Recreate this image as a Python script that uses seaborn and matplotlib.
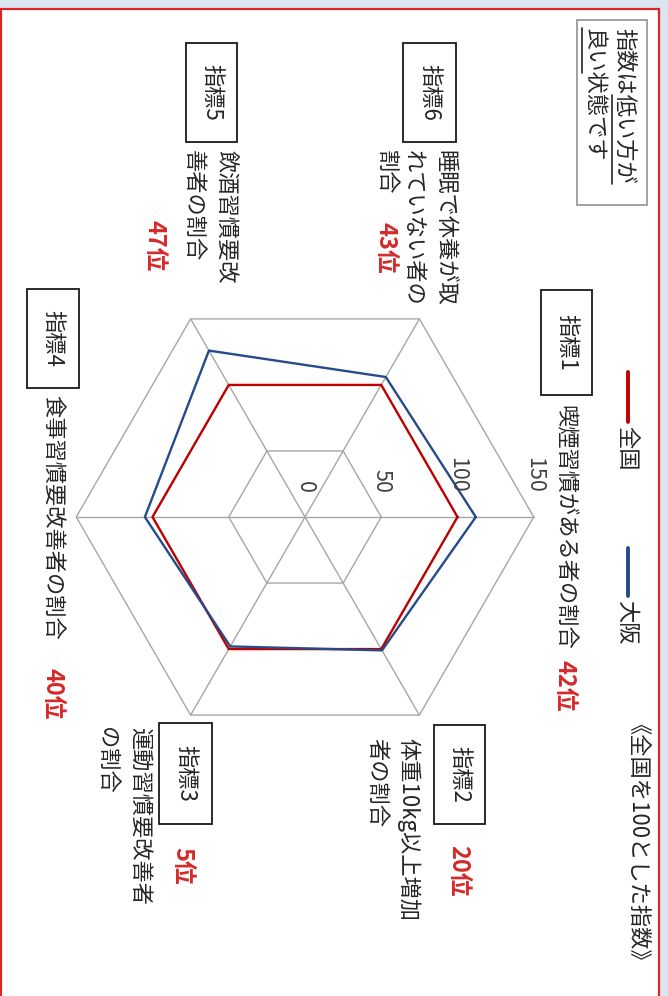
import numpy as np
import pandas as pd
import matplotlib
matplotlib.use("Agg")
import matplotlib.pyplot as plt
import seaborn as sns
from matplotlib.patches import Rectangle
from matplotlib.lines import Line2D

sns.set_theme(style="white")
plt.rcParams["font.family"] = ["Noto Sans CJK JP", "DejaVu Sans"]

# --- data ---
indicators = ["指標1", "指標2", "指標3", "指標4", "指標5", "指標6"]
descriptions = [
    ["喫煙習慣がある者の割合"],
    ["体重10kg以上増加", "者の割合"],
    ["運動習慣要改善者", "の割合"],
    ["食事習慣要改善者の割合"],
    ["飲酒習慣要改", "善者の割合"],
    ["睡眠で休養が取", "れていない者の", "割合"],
]
ranks = [42, 20, 5, 40, 47, 43]
zenkoku = [100, 100, 100, 100, 100, 100]
osaka = [112, 101, 98, 105, 126, 106]
rings = [50, 100, 150]
ring_labels = [0, 50, 100, 150]

# --- layout (pixels, origin top-left) ---
W, H = 668, 996
CX, CY = 305, 517
SCALE = 1.525  # px per index point
box_px = [(541, 290, 51, 105), (434, 725, 51, 99), (159, 723, 53, 101),
          (27, 289, 52, 99), (186, 43, 51, 99), (403, 43, 53, 99)]
desc_px = [[(565, 405)], [(408, 738), (377, 738)], [(140, 727), (107, 727)],
           [(52, 395)], [(225, 150), (193, 150)], [(445, 150), (413, 150), (386, 150)]]
rank_px = [(565, 660), (458, 845), (182, 847), (52, 668), (155, 220), (386, 222)]

RED = "#c00000"
BLUE = "#264b8a"
GRID = "#a6a6a6"
TXT = "#262626"
RANK = "#d42a2a"


def fx(x):
    return x / W


def fy(y):
    return 1 - y / H


def vtext(x, y, s, va="top", **kw):
    fig.text(fx(x), fy(y), s, rotation=-90, ha="center", va=va, **kw)


fig = plt.figure(figsize=(W / 100, H / 100), dpi=100)
fig.patch.set_facecolor("#dce6f1")

# white panel with red frame
fig.add_artist(Rectangle((fx(0.5), fy(1010)), fx(658.5), (1010 - 9) / H,
                         transform=fig.transFigure, facecolor="white",
                         edgecolor="#d9262b", lw=1.6, zorder=-10))

# --- radar ---
half = 300 / SCALE
ax = fig.add_axes([fx(CX - 300), fy(CY + 300), fx(600), 600 / H])
ax.set_facecolor("none")
ax.set_xlim(-half, half)
ax.set_ylim(-half, half)
ax.axis("off")

theta = np.deg2rad(-60 * np.arange(6))
closed = list(range(6)) + [0]
for r in rings:
    ax.plot(r * np.cos(theta[closed]), r * np.sin(theta[closed]), color=GRID, lw=1.0, zorder=1)
for t in theta:
    ax.plot([0, 150 * np.cos(t)], [0, 150 * np.sin(t)], color=GRID, lw=1.0, zorder=1)

rows = []
for name, vals in [("全国", zenkoku), ("大阪", osaka)]:
    for i in closed:
        rows.append({"area": name, "x": vals[i] * np.cos(theta[i]), "y": vals[i] * np.sin(theta[i])})
df = pd.DataFrame(rows)
sns.lineplot(data=df, x="x", y="y", hue="area", sort=False, estimator=None,
             palette={"全国": RED, "大阪": BLUE}, lw=1.7, legend=False, ax=ax, zorder=3)

for v in ring_labels:
    ax.text(v, 24 / SCALE, str(v), rotation=-90, ha="center", va="bottom",
            fontsize=15.5, color="#404040")

# --- indicator boxes, descriptions, ranks ---
for name, (bx, by, bw, bh), lines, cols, rk, (rx, ry) in zip(
        indicators, box_px, descriptions, desc_px, ranks, rank_px):
    fig.add_artist(Rectangle((fx(bx), fy(by + bh)), fx(bw), bh / H,
                             transform=fig.transFigure, facecolor="white",
                             edgecolor="#1a1a1a", lw=1.3))
    vtext(bx + bw / 2, by + bh / 2, name, va="center", fontsize=16, color=TXT)
    for line, (lx, ly) in zip(lines, cols):
        vtext(lx, ly, line, fontsize=16, color=TXT)
    vtext(rx, ry, f"{rk}位", fontsize=17, color=RANK, fontweight="bold")

# --- note box top right ---
fig.add_artist(Rectangle((fx(577), fy(205)), fx(70), (205 - 20) / H,
                         transform=fig.transFigure, facecolor="white",
                         edgecolor="#9a9a9a", lw=1.3))
vtext(624, 28, "指数は低い方が", fontsize=16, color=TXT)
vtext(594, 28, "良い状態です", fontsize=16, color=TXT)
fig.add_artist(Line2D([fx(612), fx(612)], [fy(95), fy(184)], transform=fig.transFigure,
                      color=TXT, lw=1.2))
fig.add_artist(Line2D([fx(582), fx(582)], [fy(28), fy(73)], transform=fig.transFigure,
                      color=TXT, lw=1.2))

# --- legend (rotated) ---
fig.add_artist(Line2D([fx(628), fx(628)], [fy(372), fy(422)], transform=fig.transFigure,
                      color=RED, lw=2.8))
vtext(627, 426, "全国", fontsize=16, color=TXT)
fig.add_artist(Line2D([fx(628), fx(628)], [fy(548), fy(596)], transform=fig.transFigure,
                      color=BLUE, lw=2.8))
vtext(627, 600, "大阪", fontsize=16, color=TXT)

vtext(627, 723, "《全国を100とした指数》", fontsize=16, color=TXT)

fig.savefig("out.png", dpi=100, facecolor=fig.get_facecolor())
